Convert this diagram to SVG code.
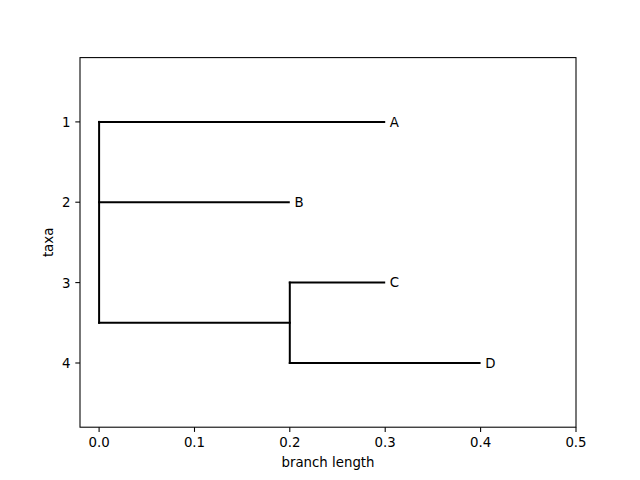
<svg xmlns="http://www.w3.org/2000/svg" width="640" height="480" viewBox="0 0 640 480">
<style>
text{font-family:"DejaVu Sans",sans-serif;font-size:13.33px;fill:#000}
.br{stroke:#000;stroke-width:2;fill:none;stroke-linecap:square}
.tk{stroke:#000;stroke-width:1.07}
.xt{text-anchor:middle}
.yt{text-anchor:end}
</style>
<rect width="640" height="480" fill="#fff"/>
<g id="axes">
<rect x="80" y="57.6" width="496" height="369.6" fill="none" stroke="#000" stroke-width="1.07"/>
<g class="tk">
<line x1="99.1" y1="427.2" x2="99.1" y2="431.9"/>
<line x1="194.5" y1="427.2" x2="194.5" y2="431.9"/>
<line x1="289.8" y1="427.2" x2="289.8" y2="431.9"/>
<line x1="385.2" y1="427.2" x2="385.2" y2="431.9"/>
<line x1="480.6" y1="427.2" x2="480.6" y2="431.9"/>
<line x1="576" y1="427.2" x2="576" y2="431.9"/>
<line x1="75.3" y1="121.9" x2="80" y2="121.9"/>
<line x1="75.3" y1="202.2" x2="80" y2="202.2"/>
<line x1="75.3" y1="282.6" x2="80" y2="282.6"/>
<line x1="75.3" y1="363" x2="80" y2="363"/>
</g>
<text class="xt" x="99.1" y="447">0.0</text>
<text class="xt" x="194.5" y="447">0.1</text>
<text class="xt" x="289.8" y="447">0.2</text>
<text class="xt" x="385.2" y="447">0.3</text>
<text class="xt" x="480.6" y="447">0.4</text>
<text class="xt" x="576" y="447">0.5</text>
<text class="yt" x="70.6" y="126.8">1</text>
<text class="yt" x="70.6" y="207.1">2</text>
<text class="yt" x="70.6" y="287.5">3</text>
<text class="yt" x="70.6" y="367.9">4</text>
<text class="xt" x="328" y="467">branch length</text>
<text class="xt" transform="translate(52.5,242.4) rotate(-90)">taxa</text>
</g>
<g id="connectors">
<path class="br" d="M99.1,121.9 V322.8"/>
<path class="br" d="M99.1,121.9 H384.2"/>
<path class="br" d="M99.1,202.2 H288.8"/>
<path class="br" d="M99.1,322.8 H289.8"/>
<path class="br" d="M289.8,282.6 V363"/>
<path class="br" d="M289.8,282.6 H384.2"/>
<path class="br" d="M289.8,363 H479.6"/>
</g>
<g id="node-A"><text x="389.8" y="126.5">A</text></g>
<g id="node-B"><text x="294.4" y="206.8">B</text></g>
<g id="node-C"><text x="389.8" y="287.2">C</text></g>
<g id="node-D"><text x="485.2" y="367.6">D</text></g>
</svg>
